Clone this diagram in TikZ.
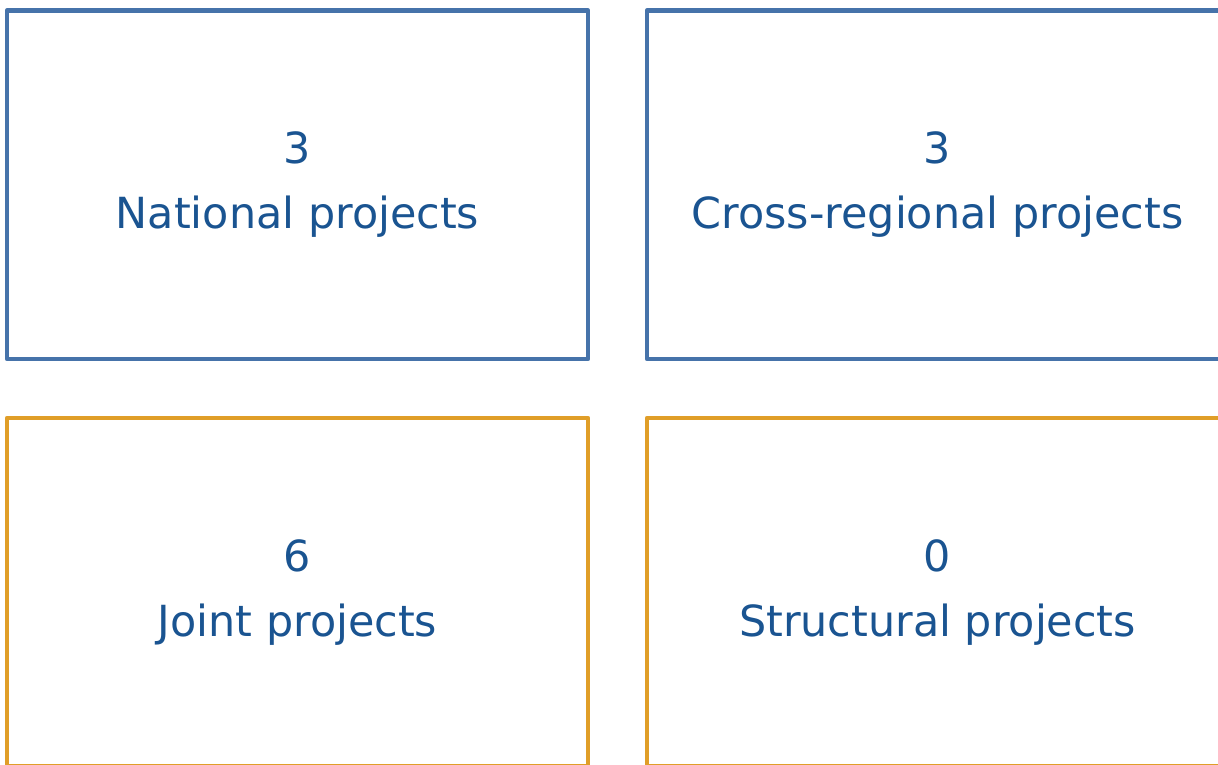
\documentclass[tikz,border=0pt]{standalone}
\usepackage{fontspec}
\setmainfont{DejaVu Sans}
\usepackage{xcolor}
\usetikzlibrary{positioning}
\definecolor{boxblue}{RGB}{70,115,170}
\definecolor{boxorange}{RGB}{224,158,40}
\definecolor{txtblue}{RGB}{26,84,145}
\tikzset{
	node distance = 0.59cm and 0.59cm,
	every node/.style={align=center,outer sep=0pt},
	countbox/.style={rectangle, draw, line width=0.047cm, line join=round, minimum width=5.81cm, minimum height=3.485cm, text=txtblue, font=\fontsize{12.2}{18.5}\selectfont},
	natbox/.style={countbox, draw=boxblue},
	jointbox/.style={countbox, draw=boxorange}
}

\begin{document}
\begin{tikzpicture}
	\useasboundingbox (0,0) rectangle (12.18,-7.64);
					\node (national) [natbox, anchor=north west] at (0.07,-0.105) {3\\National projects};
					\node (crossreg) [natbox, right = of national] {3\\Cross-regional projects};
					\node (joint) [jointbox, below = of national] {6\\Joint projects};
					\node (structural) [jointbox, below = of crossreg] {0\\Structural projects};
\end{tikzpicture}
\end{document}
